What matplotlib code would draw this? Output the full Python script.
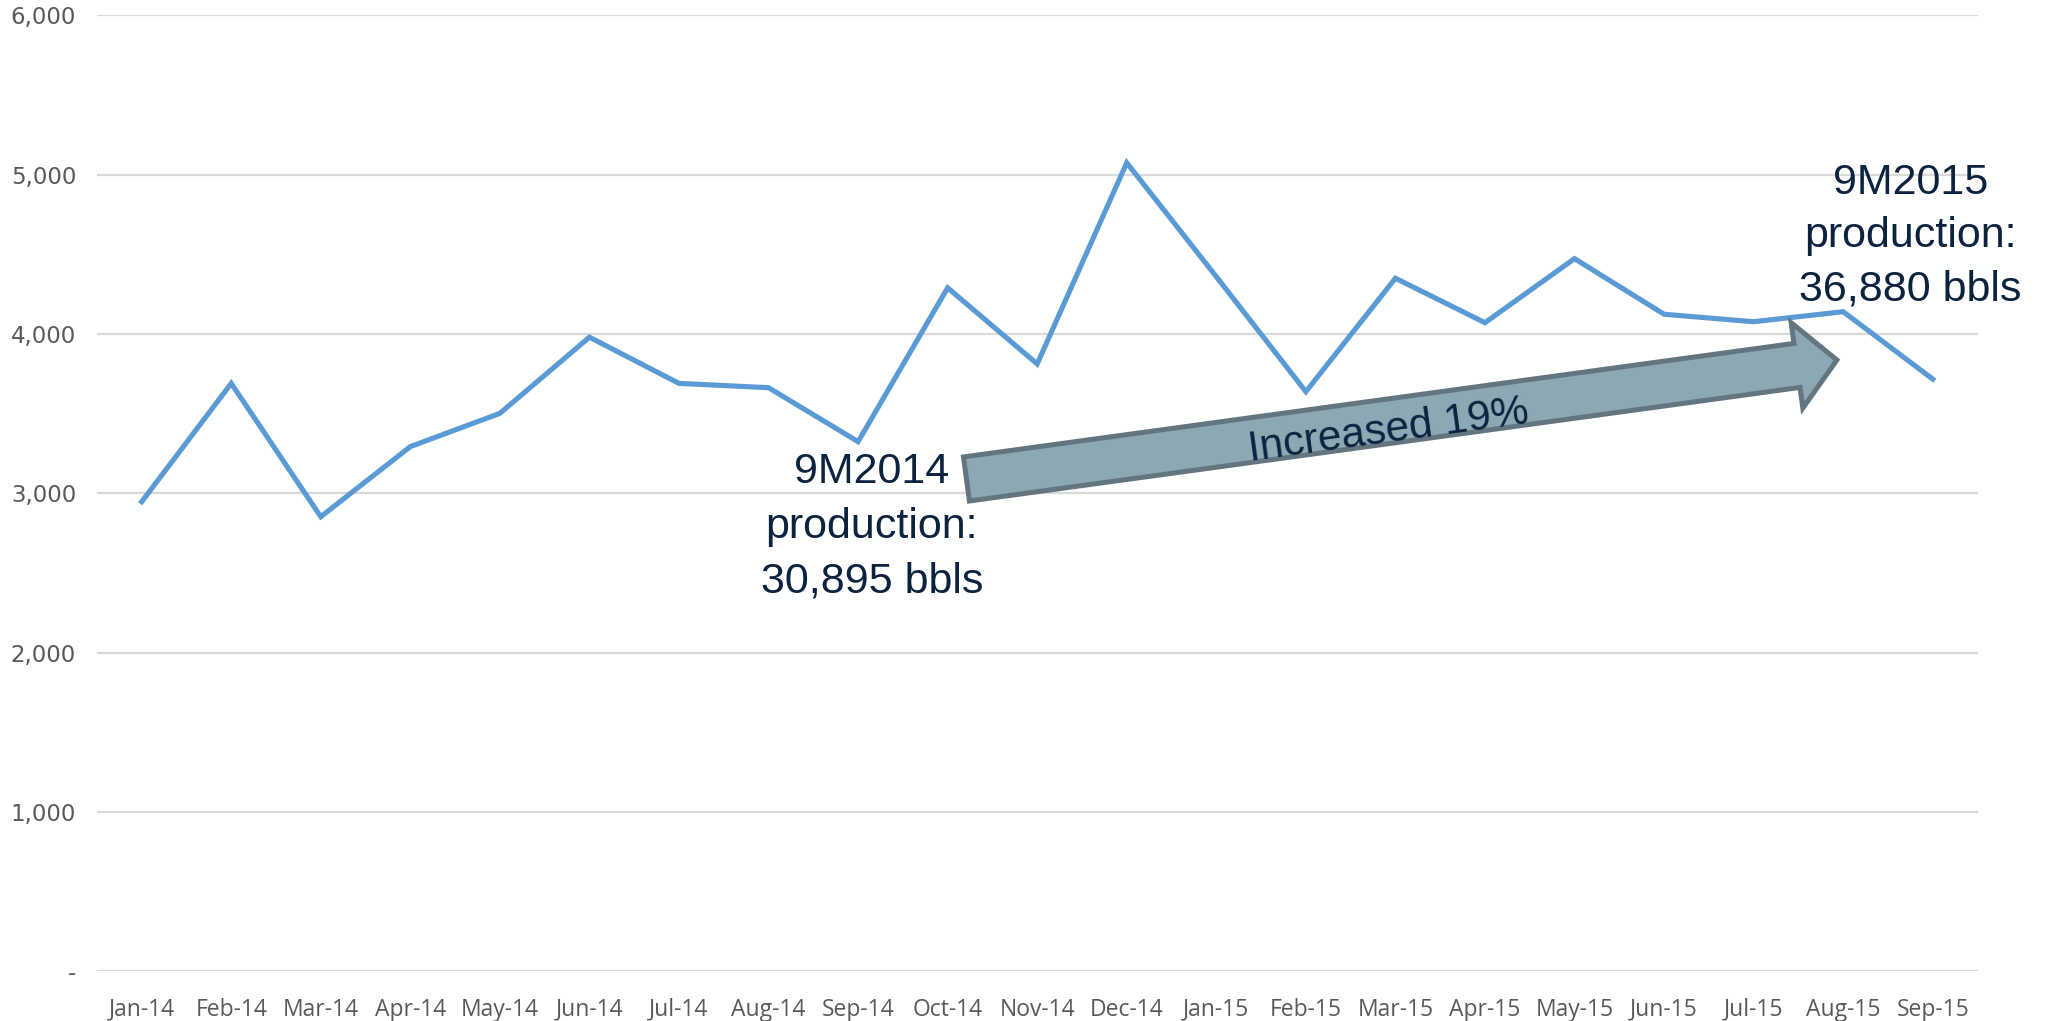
import matplotlib
matplotlib.use("Agg")
import matplotlib.pyplot as plt
from matplotlib import font_manager
from matplotlib.patches import FancyArrowPatch, ArrowStyle

months = ["Jan-14", "Feb-14", "Mar-14", "Apr-14", "May-14", "Jun-14", "Jul-14",
          "Aug-14", "Sep-14", "Oct-14", "Nov-14", "Dec-14", "Jan-15", "Feb-15",
          "Mar-15", "Apr-15", "May-15", "Jun-15", "Jul-15", "Aug-15", "Sep-15"]
production = [2947, 3690, 2853, 3293, 3502, 3980, 3690, 3663, 3324, 4290, 3812,
              5075, 4360, 3638, 4350, 4071, 4473, 4124, 4077, 4140, 3717]
y_ticks = [0, 1000, 2000, 3000, 4000, 5000, 6000]
y_labels = ["-", "1,000", "2,000", "3,000", "4,000", "5,000", "6,000"]

label_2014 = "9M2014\nproduction:\n30,895 bbls"
label_2015 = "9M2015\nproduction:\n36,880 bbls"
label_growth = "Increased 19%"

available = {f.name for f in font_manager.fontManager.ttflist}
month_font = "Open Sans" if "Open Sans" in available else "DejaVu Sans"

W, H = 2049, 1021
fig = plt.figure(figsize=(W / 100, H / 100), dpi=100)
left, right = 96.9, 1977.5
top, bottom = 15.4, 971.2
ax = fig.add_axes([left / W, 1 - bottom / H, (right - left) / W, (bottom - top) / H])

x = list(range(len(months)))
ax.plot(x, production, color="#5b9bd5", lw=3.7, solid_joinstyle="miter", zorder=3)

ax.set_xlim(-0.5, len(months) - 0.5)
ax.set_ylim(0, 6000)
ax.set_yticks(y_ticks)
ax.set_yticklabels(y_labels, fontsize=16.5, color="#595959", family="DejaVu Sans")
ax.set_xticks(x)
ax.set_xticklabels(months, fontsize=16.5, color="#595959", family=month_font)
ax.tick_params(axis="both", length=0)
ax.tick_params(axis="y", pad=15)
ax.tick_params(axis="x", pad=19)
ax.grid(axis="y", color="#d9d9d9", lw=1.6)
ax.set_axisbelow(True)
for s in ax.spines.values():
    s.set_visible(False)

navy = "#0c2340"
ax.text(8.155, 2790, label_2014, ha="center", va="center", multialignment="center",
        fontsize=31, family="Liberation Sans", color=navy, linespacing=1.46,
        clip_on=False, zorder=5)
ax.text(19.75, 4615, label_2015, ha="center", va="center", multialignment="center",
        fontsize=31, family="Liberation Sans", color=navy, linespacing=1.42,
        clip_on=False, zorder=5)

arrow = FancyArrowPatch((9.21, 3090), (18.93, 3837),
                        arrowstyle=ArrowStyle.Simple(head_length=29, head_width=62,
                                                     tail_width=32),
                        mutation_scale=1, shrinkA=0, shrinkB=0,
                        facecolor="#8ba8b3", edgecolor="#637680", lw=3.6,
                        joinstyle="miter", zorder=4)
ax.add_patch(arrow)
ax.text(13.92, 3390, label_growth, ha="center", va="center", rotation=7.75,
        rotation_mode="anchor", fontsize=30.5, family="Liberation Sans", color=navy,
        zorder=6)

fig.savefig("out.png", dpi=100)
